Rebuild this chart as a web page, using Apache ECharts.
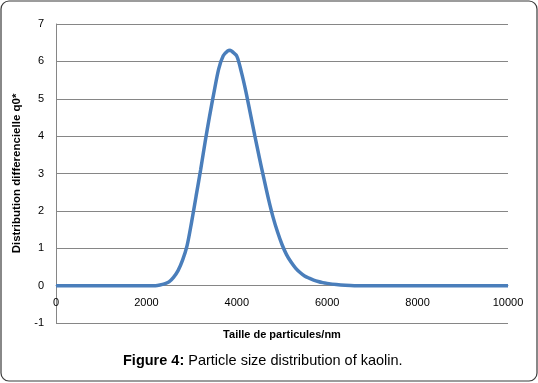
<!DOCTYPE html>
<html>
<head>
<meta charset="utf-8">
<script src="https://cdn.jsdelivr.net/npm/echarts@6/dist/echarts.min.js"></script>
<style>
html,body{margin:0;padding:0;background:#fff;}
#c{width:538px;height:383px;}
</style>
</head>
<body>
<div id="c"></div>
<script>
const sizes = [0, 1000, 2000, 2200, 2300, 2400, 2500, 2600, 2700, 2800, 2900, 3000, 3100, 3200, 3300, 3400, 3500, 3600, 3700, 3800, 3850, 3900, 4000, 4100, 4200, 4300, 4400, 4500, 4600, 4700, 4800, 4900, 5000, 5100, 5200, 5300, 5400, 5500, 5600, 5700, 5800, 5900, 6000, 6200, 6400, 6600, 7000, 8000, 9000, 10000];
const q0 = [0, 0, 0, 0, 0.015, 0.045, 0.1, 0.22, 0.4, 0.68, 1.07, 1.7, 2.4, 3.1, 3.85, 4.55, 5.2, 5.8, 6.15, 6.28, 6.3, 6.26, 6.14, 5.72, 5.2, 4.6, 4.0, 3.42, 2.86, 2.32, 1.84, 1.44, 1.1, 0.83, 0.63, 0.47, 0.35, 0.26, 0.2, 0.15, 0.11, 0.08, 0.06, 0.03, 0.01, 0, 0, 0, 0, 0];
const xTicks = [0, 2000, 4000, 6000, 8000, 10000];
const yTicks = [-1, 0, 1, 2, 3, 4, 5, 6, 7];
const xTitle = 'Taille de particules/nm';
const yTitle = 'Distribution differencielle q0*';

const chart = echarts.init(document.getElementById('c'));
const font = 'Liberation Sans, Arial, sans-serif';
const yMin = yTicks[0], yMax = yTicks[yTicks.length - 1];
const plotH = 299;
const zeroOffset = -plotH * (0 - yMin) / (yMax - yMin);
chart.setOption({
  animation: false,
  backgroundColor: '#fff',
  grid: {left: 56, right: 30, top: 24, height: plotH},
  xAxis: {
    type: 'value', min: xTicks[0], max: xTicks[xTicks.length - 1], interval: xTicks[1] - xTicks[0],
    offset: zeroOffset,
    name: xTitle, nameLocation: 'middle', nameGap: 44,
    nameTextStyle: {fontFamily: font, fontSize: 11, fontWeight: 'bold', color: '#000'},
    axisLine: {show: true, onZero: false, lineStyle: {color: '#868686', width: 1}},
    axisTick: {show: false},
    axisLabel: {fontFamily: font, fontSize: 11, color: '#000', margin: 12, formatter: v => String(v)},
    splitLine: {show: false}
  },
  yAxis: {
    type: 'value', min: yMin, max: yMax, interval: 1,
    name: yTitle, nameLocation: 'middle', nameGap: 25, nameRotate: 90,
    nameTextStyle: {fontFamily: font, fontSize: 11.5, fontWeight: 'bold', color: '#000'},
    axisLine: {show: true, onZero: false, lineStyle: {color: '#868686', width: 1}},
    axisTick: {show: false},
    axisLabel: {fontFamily: font, fontSize: 11, color: '#000', margin: 12},
    splitLine: {show: true, lineStyle: {color: '#868686', width: 1}}
  },
  series: [{
    type: 'line',
    data: sizes.map((s, i) => [s, q0[i]]),
    smooth: 0.3,
    showSymbol: false,
    lineStyle: {color: '#4a7ebb', width: 3.5},
    z: 3
  }],
  graphic: [
    {type: 'rect', shape: {x: 1, y: 1, width: 536, height: 380, r: 8}, style: {fill: 'none', stroke: '#3a3a3a', lineWidth: 1.2}, silent: true},
    {type: 'text', left: 123, top: 353, style: {
      text: '{b|Figure 4:} Particle size distribution of kaolin.',
      rich: {b: {fontFamily: font, fontSize: 14.5, fontWeight: 'bold', fill: '#000'}},
      fontFamily: font, fontSize: 14.5, fill: '#000'
    }}
  ]
});
</script>
</body>
</html>
